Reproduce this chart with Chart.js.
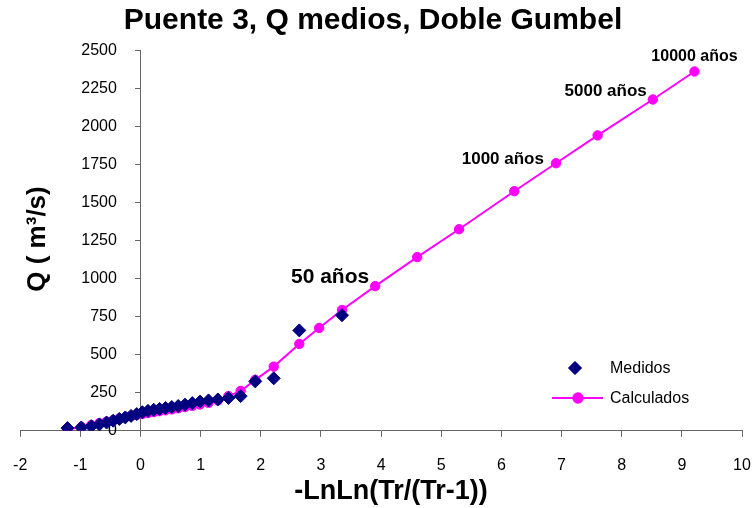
<!DOCTYPE html>
<html>
<head>
<meta charset="utf-8">
<script src="https://cdn.jsdelivr.net/npm/chart.js@4.4.1/dist/chart.umd.min.js"></script>
<style>
  html, body { margin: 0; padding: 0; background: #fff; }
</style>
</head>
<body>
<canvas id="grafico" width="756" height="508"></canvas>
<script>
//DATOS
//Medidos: posicion de graficado -LnLn(Tr/(Tr-1)) y caudal Q (m3/s)
var medidosX = [-1.214, -0.984, -0.819, -0.684, -0.564, -0.455, -0.352, -0.253, -0.157, -0.063,
  0.031, 0.125, 0.220, 0.317, 0.417, 0.520, 0.627, 0.740, 0.861, 0.990,
  1.131, 1.286, 1.462, 1.665, 1.908, 2.215, 2.640, 3.350];
var medidosQ = [18, 22, 30, 42, 54, 66, 78, 88, 98, 110,
  122, 131, 138, 144, 150, 156, 163, 172, 182, 192,
  200, 206, 216, 228, 325, 345, 660, 760];

//Calculados: Doble Gumbel
var calculadosX = [-1.214, -0.984, -0.819, -0.684, -0.564, -0.455, -0.352, -0.253, -0.157, -0.063,
  0.031, 0.125, 0.220, 0.317, 0.417, 0.520, 0.627, 0.740, 0.861, 0.990,
  1.131, 1.286, 1.462, 1.665, 1.908, 2.215, 2.640, 2.970, 3.350, 3.902,
  4.600, 5.296, 6.214, 6.907, 7.600, 8.517, 9.210];
var calculadosQ = [8, 25, 38, 50, 60, 70, 80, 89, 97, 104,
  111, 117, 123, 129, 135, 141, 148, 156, 164, 173,
  184, 200, 228, 262, 335, 422, 571, 676, 794, 951,
  1142, 1325, 1575, 1759, 1942, 2178, 2362];

//etiquetas de periodo de retorno (sobre los puntos calculados)
var etiquetasTr = ['50 años', '1000 años', '5000 años', '10000 años'];
var etiquetasX = [3.902, 6.907, 8.517, 9.210];

//textos
var tituloGrafico = 'Puente 3, Q medios, Doble Gumbel';
var tituloX = '-LnLn(Tr/(Tr-1))';
var tituloY = 'Q ( m³/s)';

//ESTILO
var FUENTE = '"Liberation Sans", Arial, sans-serif';
var estilosEtiqueta = [
  { size: 21, align: 'right', dx: -6, dy: -9 },
  { size: 17, align: 'right', dx: -12, dy: -4 },
  { size: 17, align: 'right', dx: -6, dy: -8 },
  { size: 16, align: 'center', dx: 0, dy: -15 }
];

function puntos(xs, ys) {
  var out = [];
  for (var i = 0; i < xs.length; i++) {
    out.push({ x: xs[i], y: ys[i] });
  }
  return out;
}

//textos extra: titulos, etiquetas de Tr y leyenda
var textos = {
  id: 'textos',
  afterDraw: function (chart) {
    var ctx = chart.ctx;
    var meta = chart.getDatasetMeta(1);
    ctx.save();
    ctx.fillStyle = '#000';
    ctx.textBaseline = 'middle';

    //titulo principal y titulo eje X
    ctx.textAlign = 'center';
    ctx.font = 'bold 30px ' + FUENTE;
    ctx.fillText(tituloGrafico, 373, 21);
    ctx.font = 'bold 27px ' + FUENTE;
    ctx.fillText(tituloX, 391, 492);

    for (var i = 0; i < etiquetasTr.length; i++) {
      var idx = calculadosX.indexOf(etiquetasX[i]);
      var p = meta.data[idx];
      var e = estilosEtiqueta[i];
      ctx.font = 'bold ' + e.size + 'px ' + FUENTE;
      ctx.textAlign = e.align;
      ctx.fillText(etiquetasTr[i], p.x + e.dx, p.y + e.dy);
    }

    //titulo eje Y
    ctx.save();
    ctx.translate(38, 239);
    ctx.rotate(-Math.PI / 2);
    ctx.font = 'bold 26px ' + FUENTE;
    ctx.textAlign = 'center';
    ctx.fillText(tituloY, 0, 0);
    ctx.restore();

    //leyenda
    var ds = chart.data.datasets;
    ctx.font = '16px ' + FUENTE;
    ctx.textAlign = 'left';
    ctx.fillStyle = ds[0].backgroundColor;
    ctx.strokeStyle = ds[0].borderColor;
    ctx.lineWidth = 1;
    Chart.helpers.drawPoint(ctx, { pointStyle: ds[0].pointStyle, radius: ds[0].pointRadius, borderWidth: 1 }, 575, 368);
    ctx.fill();
    ctx.fillStyle = '#000';
    ctx.fillText(ds[0].label, 610, 369);

    ctx.strokeStyle = ds[1].borderColor;
    ctx.lineWidth = ds[1].borderWidth;
    ctx.beginPath();
    ctx.moveTo(552, 398);
    ctx.lineTo(603, 398);
    ctx.stroke();
    ctx.fillStyle = ds[1].backgroundColor;
    Chart.helpers.drawPoint(ctx, { pointStyle: 'circle', radius: ds[1].pointRadius, borderWidth: 1 }, 578, 398);
    ctx.fill();
    ctx.fillStyle = '#000';
    ctx.fillText(ds[1].label, 610, 399);
    ctx.restore();
  }
};

var fuenteTicks = { family: FUENTE, size: 16 };
function sinSeparador(v) { return String(v); }

var grafico = new Chart(document.getElementById('grafico'), {
  type: 'scatter',
  data: {
    datasets: [{
      label: 'Medidos',
      data: puntos(medidosX, medidosQ),
      pointStyle: 'rectRot',
      pointRadius: 6.5,
      pointBorderWidth: 1,
      backgroundColor: '#000080',
      borderColor: '#000080',
      showLine: false
    }, {
      label: 'Calculados',
      data: puntos(calculadosX, calculadosQ),
      showLine: true,
      pointStyle: 'circle',
      pointRadius: 4.7,
      pointBorderWidth: 1,
      borderWidth: 2,
      borderColor: '#FF00FF',
      backgroundColor: '#FF00FF',
      tension: 0
    }]
  },
  options: {
    responsive: false,
    animation: false,
    devicePixelRatio: 1,
    layout: { padding: { left: 20.2, right: 14, top: 50.5, bottom: 14 } },
    plugins: {
      legend: { display: false },
      tooltip: { enabled: false },
      title: { display: false }
    },
    scales: {
      x: {
        type: 'linear',
        position: 'bottom',
        min: -2,
        max: 10,
        ticks: { stepSize: 1, color: '#000', padding: 19, font: fuenteTicks },
        grid: { drawOnChartArea: false, drawTicks: true, tickLength: 6, color: '#666' },
        border: { color: '#666', width: 1 },
        //el padding de las etiquetas no debe estrechar el area del grafico
        afterFit: function (scale) {
          scale.paddingLeft = 0;
          scale.paddingRight = 0;
        }
      },
      //eje Y en x = 0 (solo linea y marcas)
      y: {
        type: 'linear',
        position: { x: 0 },
        min: 0,
        max: 2500,
        ticks: { stepSize: 250, display: false },
        grid: { drawOnChartArea: false, drawTicks: true, tickLength: 5, color: '#666' },
        border: { color: '#666', width: 1 }
      },
      //etiquetas del eje Y, a la izquierda del eje
      yEtiquetas: {
        type: 'linear',
        position: { x: -0.392 },
        min: 0,
        max: 2500,
        ticks: { stepSize: 250, color: '#000', font: fuenteTicks, callback: sinSeparador },
        grid: { display: false },
        border: { display: false }
      }
    }
  },
  plugins: [textos]
});
</script>
</body>
</html>
